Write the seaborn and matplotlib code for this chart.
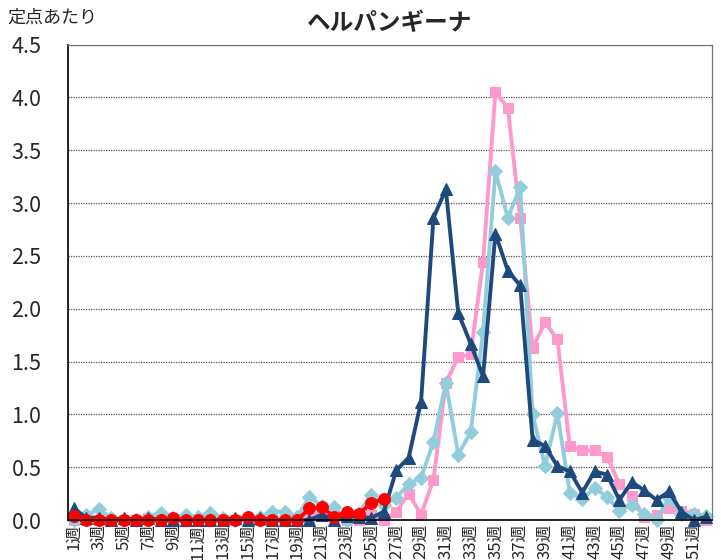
import numpy as np
import pandas as pd
import matplotlib
matplotlib.use('Agg')
import matplotlib.pyplot as plt
from matplotlib.ticker import MultipleLocator, FixedLocator
import seaborn as sns

weeks = list(range(1, 53))
week_labels = [f'{w}週' if w % 2 == 1 else '' for w in weeks]

# three earlier seasons + current season (to week 26)
pink_vals = [0.0, 0.0, 0.0, 0.0, 0.0, 0.0, 0.02, 0.0, 0.0, 0.0,
             0.0, 0.0, 0.0, 0.0, 0.0, 0.0, 0.0, 0.0, 0.0, 0.02,
             0.08, 0.04, 0.0, 0.0, 0.05, 0.0, 0.08, 0.25, 0.05, 0.38,
             1.30, 1.54, 1.57, 2.44, 4.05, 3.90, 2.86, 1.63, 1.87, 1.71,
             0.70, 0.66, 0.66, 0.60, 0.34, 0.23, 0.03, 0.05, 0.11, 0.09,
             0.06, 0.0]
lightblue_vals = [0.0, 0.05, 0.10, 0.02, 0.0, 0.0, 0.03, 0.07, 0.02, 0.05,
                  0.03, 0.07, 0.02, 0.0, 0.02, 0.03, 0.08, 0.08, 0.03, 0.22,
                  0.13, 0.12, 0.0, 0.07, 0.24, 0.14, 0.21, 0.34, 0.40, 0.74,
                  1.30, 0.62, 0.83, 1.78, 3.30, 2.86, 3.15, 1.00, 0.51, 1.01,
                  0.26, 0.20, 0.30, 0.22, 0.09, 0.14, 0.06, 0.0, 0.21, 0.06,
                  0.06, 0.04]
darkblue_vals = [0.11, 0.02, 0.02, 0.0, 0.02, 0.0, 0.02, 0.0, 0.0, 0.0,
                 0.0, 0.0, 0.0, 0.02, 0.0, 0.02, 0.0, 0.0, 0.0, 0.0,
                 0.05, 0.0, 0.04, 0.03, 0.02, 0.08, 0.47, 0.59, 1.12, 2.86,
                 3.13, 1.96, 1.67, 1.36, 2.71, 2.36, 2.22, 0.76, 0.70, 0.51,
                 0.46, 0.26, 0.46, 0.43, 0.19, 0.36, 0.28, 0.19, 0.27, 0.08,
                 0.0, 0.03]
red_vals = [0.04, 0.0, 0.0, 0.0, 0.0, 0.0, 0.0, 0.0, 0.02, 0.0,
            0.0, 0.0, 0.0, 0.0, 0.03, 0.0, 0.0, 0.0, 0.0, 0.11,
            0.12, 0.03, 0.08, 0.06, 0.16, 0.20]

sns.set_style('white')
plt.rcParams['font.family'] = ['Noto Sans CJK JP', 'DejaVu Sans']

fig = plt.figure(figsize=(7.21, 5.6), dpi=100)
ax = fig.add_axes([0.094, 0.0714, 0.894, 0.849])

series = [
    (pink_vals, '#FF99CC', 's', 7.5),
    (lightblue_vals, '#92CDDC', 'D', 7),
    (darkblue_vals, '#1F497D', '^', 8),
    (red_vals, '#FF0000', 'o', 8.5),
]
for vals, color, marker, ms in series:
    sns.lineplot(x=weeks[:len(vals)], y=vals, ax=ax, color=color, marker=marker,
                 markersize=ms, markeredgecolor=color, linewidth=2.8, clip_on=False)

ax.set_xlim(0.5, 52.5)
ax.set_ylim(0, 4.5)
ax.yaxis.set_major_locator(MultipleLocator(0.5))
ax.yaxis.set_major_formatter(matplotlib.ticker.FormatStrFormatter('%.1f'))
ax.grid(axis='y', color='#555555', linestyle=(0, (1, 1)), linewidth=0.9)
ax.set_axisbelow(True)

ax.xaxis.set_major_locator(FixedLocator(weeks))
ax.set_xticklabels(week_labels, rotation=90, fontsize=12, va='top')
ax.tick_params(axis='x', which='major', length=0, pad=3)
ax.xaxis.set_minor_locator(FixedLocator(np.arange(0.5, 53, 1)))
ax.tick_params(axis='x', which='minor', length=5, width=0.9, color='black', direction='out')
ax.tick_params(axis='y', labelsize=15.5, length=5, width=0.9, color='black', direction='out', pad=14)

for side in ['left', 'bottom']:
    ax.spines[side].set_color('black')
    ax.spines[side].set_linewidth(1.2)
for side in ['top', 'right']:
    ax.spines[side].set_color('#777777')
    ax.spines[side].set_linewidth(0.9)

ax.set_xlabel('')
ax.set_ylabel('')
fig.text(0.54, 0.958, 'ヘルパンギーナ', ha='center', va='center', fontsize=17, fontweight='bold')
fig.text(0.01, 0.968, '定点あたり', ha='left', va='center', fontsize=13)

fig.savefig('out.png', dpi=100)
